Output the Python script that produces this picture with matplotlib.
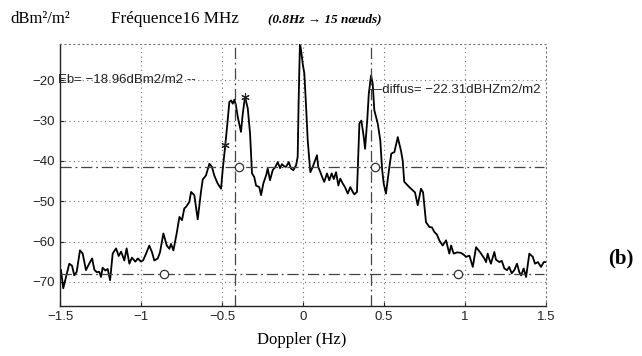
import matplotlib.pyplot as plt

plt.rcParams['font.family'] = ['Liberation Sans', 'DejaVu Sans']

# Doppler spectrum, 16 MHz radar (Hz, dBm2/m2)
freq = [-1.494, -1.48, -1.463, -1.443, -1.426, -1.412, -1.397, -1.377, -1.36, -1.34,
        -1.32, -1.302, -1.288, -1.274, -1.258, -1.247, -1.237, -1.22, -1.206, -1.191,
        -1.175, -1.154, -1.138, -1.123, -1.103, -1.089, -1.072, -1.056, -1.035, -1.02,
        -1.0, -0.986, -0.969, -0.949, -0.932, -0.918, -0.897, -0.883, -0.862, -0.841,
        -0.825, -0.815, -0.8, -0.78, -0.763, -0.747, -0.733, -0.722, -0.702, -0.691,
        -0.671, -0.65, -0.63, -0.619, -0.599, -0.578, -0.562, -0.548, -0.527, -0.506,
        -0.496, -0.48, -0.465, -0.455, -0.444, -0.434, -0.424, -0.414, -0.403, -0.383,
        -0.372, -0.358, -0.341, -0.327, -0.315, -0.301, -0.29, -0.27, -0.259, -0.245,
        -0.228, -0.218, -0.204, -0.187, -0.171, -0.156, -0.142, -0.13, -0.117, -0.105,
        -0.088, -0.074, -0.06, -0.043, -0.033, -0.027, -0.019, -0.012, -0.002, 0.008,
        0.019, 0.029, 0.039, 0.045, 0.06, 0.074, 0.086, 0.094, 0.107, 0.122,
        0.131, 0.148, 0.162, 0.177, 0.19, 0.204, 0.218, 0.23, 0.245, 0.259,
        0.276, 0.292, 0.307, 0.317, 0.333, 0.348, 0.36, 0.375, 0.383, 0.397,
        0.406, 0.42, 0.43, 0.44, 0.461, 0.477, 0.488, 0.498, 0.512, 0.533,
        0.545, 0.564, 0.585, 0.594, 0.605, 0.615, 0.625, 0.656, 0.677, 0.691,
        0.708, 0.728, 0.741, 0.759, 0.78, 0.796, 0.81, 0.827, 0.841, 0.862,
        0.883, 0.903, 0.914, 0.93, 0.951, 0.975, 0.996, 1.006, 1.027, 1.048,
        1.068, 1.088, 1.099, 1.119, 1.13, 1.14, 1.15, 1.16, 1.181, 1.191,
        1.212, 1.227, 1.243, 1.259, 1.273, 1.288, 1.304, 1.321, 1.335, 1.346,
        1.362, 1.377, 1.397, 1.418, 1.432, 1.45, 1.469, 1.486, 1.5]
power = [-67.1, -71.6, -68.8, -65.5, -66.0, -68.4, -67.5, -62.2, -63.0, -67.1,
         -65.5, -64.2, -67.0, -67.6, -67.5, -68.8, -66.5, -67.2, -66.8, -69.6,
         -63.0, -61.7, -63.6, -62.5, -64.7, -61.7, -65.5, -64.0, -65.0, -64.2,
         -65.0, -64.6, -63.0, -61.0, -62.7, -64.7, -64.2, -62.7, -58.0, -61.0,
         -61.8, -60.6, -62.2, -58.0, -53.9, -54.7, -51.8, -51.4, -50.2, -47.7,
         -48.5, -54.5, -47.7, -44.6, -43.6, -40.7, -41.5, -43.6, -45.6, -46.9,
         -42.3, -36.1, -29.9, -25.4, -25.0, -25.8, -24.8, -26.2, -29.1, -32.8,
         -28.3, -24.1, -27.0, -33.2, -43.1, -44.0, -46.1, -46.5, -48.5, -45.6,
         -43.6, -41.9, -44.8, -42.3, -41.5, -40.3, -41.8, -40.8, -41.3, -41.5,
         -40.3, -41.9, -42.3, -41.1, -39.0, -25.0, -10.8, -12.6, -15.9, -18.3,
         -26.6, -34.9, -39.9, -42.8, -41.5, -39.9, -38.6, -41.5, -42.8, -44.4,
         -45.2, -43.1, -44.8, -43.1, -44.5, -42.8, -46.1, -44.4, -45.6, -46.5,
         -48.1, -46.5, -47.7, -48.3, -47.7, -30.7, -30.0, -34.1, -37.0, -29.5,
         -23.3, -18.8, -20.8, -27.4, -30.7, -34.9, -42.0, -45.6, -48.1, -41.5,
         -38.2, -37.8, -34.1, -35.7, -37.5, -39.9, -45.2, -46.5, -47.3, -47.8,
         -51.0, -46.9, -47.8, -55.2, -56.4, -56.5, -57.6, -58.3, -59.7, -61.0,
         -59.7, -63.0, -61.0, -63.0, -62.7, -62.8, -63.4, -63.8, -63.5, -66.3,
         -61.4, -62.4, -63.0, -64.2, -65.1, -63.0, -64.4, -65.5, -62.6, -64.5,
         -65.1, -64.8, -66.7, -67.1, -66.3, -67.9, -67.1, -65.5, -67.6, -68.4,
         -66.7, -68.8, -63.0, -63.8, -65.5, -65.1, -66.3, -65.1, -65.1]

# Bragg line positions and reference levels
bragg_hz = [-0.42, 0.42]
level_bragg = -41.5
level_noise = -68.1
circle_hz = [-0.395, 0.445, -0.858, 0.957]
circle_db = [-41.5, -41.5, -68.1, -68.1]
star_hz = [-0.48, -0.358]
star_db = [-36.1, -24.1]

fig = plt.figure(figsize=(6.42, 3.56), dpi=100)
ax = fig.add_axes([0.0935, 0.1404, 0.757, 0.736])

ax.plot(freq, power, color='black', lw=1.3)

dashdot = (0, (9, 3, 1.5, 3))
for f in bragg_hz:
    ax.axvline(f, color='#444444', lw=0.9, ls=dashdot)
ax.axhline(level_bragg, xmax=0.995, color='#444444', lw=0.9, ls=dashdot)
ax.axhline(level_noise, xmax=0.995, color='#444444', lw=0.9, ls=dashdot)

ax.plot(circle_hz, circle_db, ls='none', marker='o', ms=6, mfc='white',
        mec='#333333', mew=0.9)
ax.plot(star_hz, star_db, ls='none', marker=(6, 2, 0), ms=6, color='#222222', mew=0.8)

ax.text(-1.51, -19.9, 'Eb= \u221218.96dBm2/m2 --', fontsize=9.5, va='center', ha='left',
        color='#222222')
ax.text(0.407, -22.3, '\u2014diffus= \u221222.31dBHZm2/m2', fontsize=9.5, va='center',
        ha='left', color='#222222')

ax.set_xlim(-1.5, 1.5)
ax.set_ylim(-76, -11)
ax.set_xticks([-1.5, -1, -0.5, 0, 0.5, 1, 1.5])
ax.set_xticklabels(['\u22121.5', '\u22121', '\u22120.5', '0', '0.5', '1', '1.5'])
ax.set_yticks([-70, -60, -50, -40, -30, -20])
ax.grid(True, ls=(0, (1, 3)), color='#777777', lw=0.8)
ax.tick_params(direction='in', length=3, labelsize=9.5, colors='#222222')
for side in ['top', 'right']:
    ax.spines[side].set_linestyle((0, (1, 3)))
    ax.spines[side].set_color('#777777')
    ax.spines[side].set_linewidth(0.8)
for side in ['left', 'bottom']:
    ax.spines[side].set_color('#222222')
    ax.spines[side].set_linewidth(1.0)

serif = ['Liberation Serif', 'DejaVu Serif']
fig.text(10 / 642, 1 - 19 / 356, 'dBm\u00b2/m\u00b2', family=serif, fontsize=12,
         va='center', ha='left')
fig.text(111 / 642, 1 - 19 / 356, 'Fr\u00e9quence16 MHz', family=serif, fontsize=12.3,
         va='center', ha='left')
fig.text(268 / 642, 1 - 19 / 356, '(0.8Hz \u2192 15 n\u0153uds)', family=serif,
         fontsize=9.5, style='italic', weight='bold', va='center', ha='left')
fig.text(621 / 642, 1 - 258 / 356, '(b)', family=serif, fontsize=15, weight='bold',
         va='center', ha='center')
fig.text(302 / 642, 1 - 340 / 356, 'Doppler (Hz)', family=serif, fontsize=12,
         va='center', ha='center')

fig.savefig('out.png', dpi=100)
